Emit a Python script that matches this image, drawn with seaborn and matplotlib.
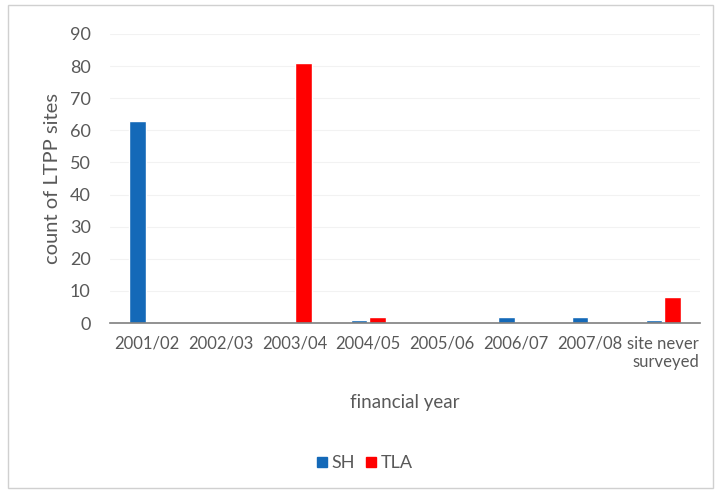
import numpy as np
import pandas as pd
import seaborn as sns
import matplotlib.pyplot as plt
from matplotlib.patches import Rectangle

years = ['2001/02', '2002/03', '2003/04', '2004/05', '2005/06', '2006/07', '2007/08', 'site never\nsurveyed']
sh_counts = [63, 0, 0, 1, 0, 2, 2, 1]
tla_counts = [0, 0, 81, 2, 0, 0, 0, 8]
series_names = ['SH', 'TLA']
palette = {'SH': '#1469b8', 'TLA': '#ff0000'}

df = pd.DataFrame({
    'year': years * 2,
    'count': sh_counts + tla_counts,
    'series': [series_names[0]] * len(years) + [series_names[1]] * len(years),
})

sns.set_style('white')
plt.rcParams['font.family'] = ['Lato', 'DejaVu Sans']
text_grey = '#595959'

fig = plt.figure(figsize=(7.15, 4.91), dpi=100)
ax = fig.add_axes([0.154, 0.342, 0.825, 0.589])

sns.barplot(data=df, x='year', y='count', hue='series', palette=palette,
            width=0.5, gap=0.1, saturation=1, ax=ax, legend=False)

ax.set_ylim(0, 90)
ax.set_xlim(-0.5, len(years) - 0.5)
ax.set_yticks(range(0, 91, 10))
ax.yaxis.grid(True, color='#f2f2f2', lw=0.8)
ax.set_axisbelow(True)
for side in ['top', 'right', 'left']:
    ax.spines[side].set_visible(False)
ax.spines['bottom'].set_color('#7f7f7f')
ax.spines['bottom'].set_linewidth(1.2)

# category boundary tick marks like the spreadsheet look
ax.set_xticks(np.arange(-0.5, len(years), 1.0), minor=True)
ax.tick_params(axis='x', which='minor', length=6, direction='inout', color='#7f7f7f', width=1)
ax.tick_params(axis='x', which='major', length=0, pad=9, labelsize=12, labelcolor=text_grey)
ax.tick_params(axis='y', length=0, pad=14, labelsize=13, labelcolor=text_grey)
for lbl in ax.get_xticklabels():
    lbl.set_multialignment('right')

ax.set_xlabel('financial year', fontsize=13.5, color=text_grey, labelpad=17)
ax.set_ylabel('count of LTPP sites', fontsize=14.5, color=text_grey, labelpad=6)

handles = [plt.Line2D([], [], marker='s', ls='', color=palette[s], markersize=6.5) for s in series_names]
fig.legend(handles, series_names, loc='center', bbox_to_anchor=(0.51, 0.057), ncol=2,
           frameon=False, fontsize=13, handlelength=0.6, handletextpad=0.25,
           columnspacing=0.6, labelcolor=text_grey)

fig.patches.append(Rectangle((0.011, 0.006), 0.986, 0.984, transform=fig.transFigure,
                             fill=False, edgecolor='#d0d0d0', lw=1))

fig.savefig('out.png', dpi=100, facecolor='white')
